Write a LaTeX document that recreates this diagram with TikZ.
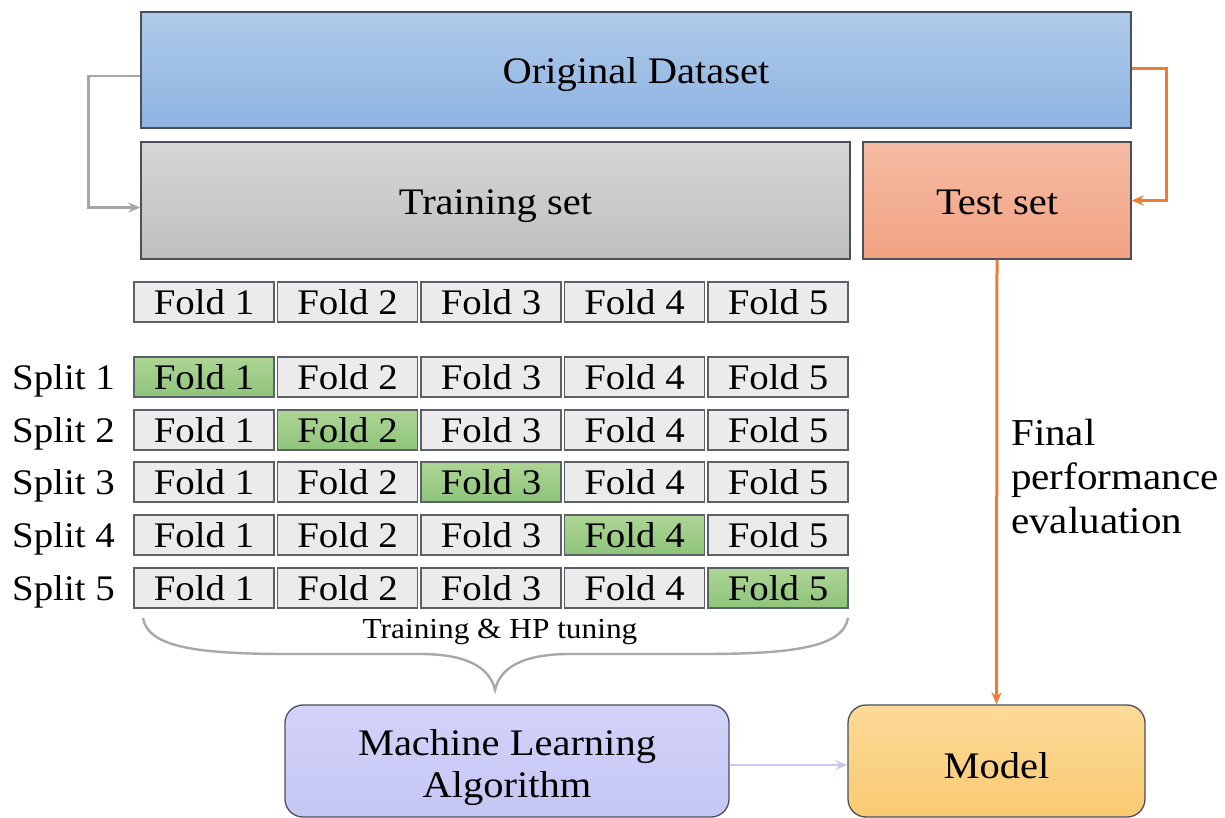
\documentclass[tikz,border=0pt]{standalone}
\usepackage{fontspec}
\setmainfont{Liberation Serif}[FakeStretch=1.08]
\usetikzlibrary{arrows.meta}
\definecolor{origT}{HTML}{AFCAE9}
\definecolor{origB}{HTML}{8DB3E2}
\definecolor{trainT}{HTML}{D6D6D6}
\definecolor{trainB}{HTML}{BFBFBF}
\definecolor{testT}{HTML}{F5BCA3}
\definecolor{testB}{HTML}{F2A283}
\definecolor{foldgray}{HTML}{EBEBEB}
\definecolor{greenT}{HTML}{AED595}
\definecolor{greenB}{HTML}{8EC47A}
\definecolor{mlT}{HTML}{D2D2FA}
\definecolor{mlB}{HTML}{C6C6F4}
\definecolor{modT}{HTML}{FCDA98}
\definecolor{modB}{HTML}{F9CA72}
\definecolor{borderc}{HTML}{4A4F58}
\definecolor{arrgray}{HTML}{A6A6A6}
\definecolor{arrorange}{HTML}{ED7D31}
\definecolor{arrlav}{HTML}{C9C9F0}
\definecolor{bracegray}{HTML}{A8A8A8}
\begin{document}
\begin{tikzpicture}[x=1pt,y=-1pt,
  bigbox/.style={draw=borderc,line width=1.4pt,inner sep=0pt,
    text height=28pt,text depth=0pt,
    font=\fontsize{37.5}{40}\selectfont},
  foldbox/.style={draw=borderc!90,line width=1.1pt,fill=foldgray,inner sep=0pt,
    minimum width=140pt,minimum height=40pt,font=\fontsize{36}{38}\selectfont},
  foldsel/.style={foldbox,top color=greenT,bottom color=greenB},
  splitlbl/.style={anchor=east,inner sep=0pt,text depth=0pt,font=\fontsize{36}{38}\selectfont},
  rbox/.style={draw=borderc,line width=1.3pt,rounded corners=18pt,inner sep=0pt,
    align=center,font=\fontsize{37.5}{42}\selectfont},
  grayarrow/.style={draw=arrgray,line width=2.6pt,-{Stealth[length=12pt,width=10pt]}},
  orangearrow/.style={draw=arrorange,line width=3pt,-{Stealth[length=12pt,width=10pt]}},
  lavarrow/.style={draw=arrlav,line width=2.6pt,-{Stealth[length=12pt,width=10pt]}}
]
\useasboundingbox (0,0) rectangle (1225,818);

% top boxes
\node[bigbox,minimum width=990pt,minimum height=116pt,top color=origT,bottom color=origB]
  (orig) at (636,70) {Original Dataset};
\node[bigbox,minimum width=709pt,minimum height=117pt,top color=trainT,bottom color=trainB]
  (train) at (495.5,200.5) {Training set};
\node[bigbox,minimum width=268pt,minimum height=117pt,top color=testT,bottom color=testB]
  (test) at (997,200.5) {Test set};

% split arrows
\draw[grayarrow] ([yshift=-6pt]orig.west) -- ++(-52,0) |- ([yshift=-7pt]train.west);
\draw[orangearrow] ([yshift=1pt]orig.east) -- ++(35,0) |- (test.east);

% folds
\foreach \r/\y in {0/302,1/377,2/430,3/482,4/535,5/588}{
  \foreach \c in {1,...,5}{
    \pgfmathsetmacro{\xx}{204+(\c-1)*143.5}
    \def\sty{foldbox}
    \ifnum\r=\c\relax\def\sty{foldsel}\fi
    \node[\sty] (f\r-\c) at (\xx,\y) {Fold \c};
  }
}
\foreach \r/\y in {1/377,2/430,3/482,4/535,5/588}{
  \node[splitlbl] (s\r) at (115,\y) {Split \r};
}

% brace
\coordinate (bl) at (143,618);
\coordinate (br) at (848,618);
\coordinate (btip) at (495,690);
\draw[bracegray,line width=2.4pt]
  (bl) .. controls (148,648) and (200,654) .. (290,654) -- (420,654)
  .. controls (468,654) and (490,668) .. (btip)
  .. controls (500,668) and (522,654) .. (570,654) -- (700,654)
  .. controls (790,654) and (843,648) .. (br);
\node[inner sep=0pt,font=\fontsize{29}{30}\selectfont] (hp) at (500,632) {Training \& HP tuning};

% bottom boxes
\node[rbox,minimum width=444pt,minimum height=112pt,top color=mlT,bottom color=mlB]
  (ml) at (507,761) {\raisebox{-7pt}[\height][\depth]{\begin{tabular}{@{}c@{}}Machine Learning\\Algorithm\end{tabular}}};
\node[rbox,minimum width=297pt,minimum height=112pt,top color=modT,bottom color=modB]
  (model) at (996.5,761) {\raisebox{-5pt}[\height][\depth]{Model}};

\draw[lavarrow] ([yshift=-4pt]ml.east) -- ([yshift=-4pt]model.west);
\draw[orangearrow] (test.south) -- (model.north);

\node[anchor=west,align=left,inner sep=0pt,font=\fontsize{38}{44}\selectfont]
  (fpe) at (1011,476) {Final\\performance\\evaluation};
\end{tikzpicture}
\end{document}
